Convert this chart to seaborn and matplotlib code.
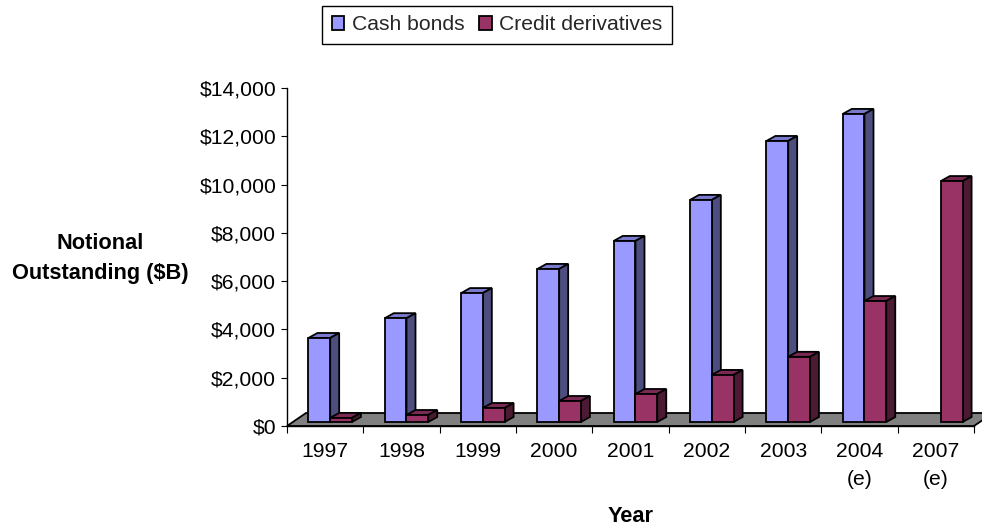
import numpy as np
import pandas as pd
import seaborn as sns
import matplotlib
matplotlib.use("Agg")
import matplotlib.pyplot as plt
from matplotlib.patches import Patch, Polygon
from matplotlib.transforms import Affine2D

years = ["1997", "1998", "1999", "2000", "2001", "2002", "2003", "2004\n(e)", "2007\n(e)"]
cash_bonds = [3480, 4300, 5340, 6340, 7500, 9200, 11640, 12760, np.nan]
credit_derivatives = [170, 290, 580, 870, 1160, 1950, 2700, 5010, 9980]
yticks = [0, 2000, 4000, 6000, 8000, 10000, 12000, 14000]

colors = {"Cash bonds": "#9999FF", "Credit derivatives": "#993366"}
tops = {"#9999FF": "#7A7ACC", "#993366": "#7A2952"}
sides = {"#9999FF": "#4D4D80", "#993366": "#4D1A33"}

df = pd.DataFrame({
    "year": years * 2,
    "series": ["Cash bonds"] * len(years) + ["Credit derivatives"] * len(years),
    "value": cash_bonds + credit_derivatives,
})

sns.set_theme(style="ticks")
plt.rcParams["font.family"] = ["Liberation Sans", "DejaVu Sans"]
fs = 15.2
bold_fs = 15.7
lw = 1.3

fig = plt.figure(figsize=(9.82, 5.27), dpi=100)
ax = fig.add_axes([287 / 982, (527 - 426) / 527, 687 / 982, 338 / 527])

sns.barplot(data=df, x="year", y="value", hue="series", palette=colors, width=0.57, gap=0,
            saturation=1, legend=False, edgecolor="black", linewidth=lw, ax=ax)
ax.set_xlim(-0.5, 8.5)
ax.set_ylim(0, 14000)

# pixel sizes to data units
cat_px = 687 / 9
val_px = 14000 / 338
dx = 9 / cat_px
dy = 5 * val_px

# fake 3d: bars sit a little behind the axis line
shift = Affine2D().translate(5, 4)
tr = ax.transData + shift

floor_dx = 19 / cat_px
floor_dy = 13 * val_px
ax.add_patch(Polygon([(-0.5, 0), (8.5, 0), (8.5 + floor_dx, floor_dy), (-0.5 + floor_dx, floor_dy)],
                     closed=True, facecolor="#808080", edgecolor="black", linewidth=lw,
                     clip_on=False, zorder=1))

bars = [p for p in ax.patches if isinstance(p, matplotlib.patches.Rectangle)]
bars = sorted(bars, key=lambda p: p.get_x())
for i, bar in enumerate(bars):
    h = bar.get_height()
    if np.isnan(h) or h == 0:
        bar.set_visible(False)
        continue
    x0 = bar.get_x()
    x1 = x0 + bar.get_width()
    face = matplotlib.colors.to_hex(bar.get_facecolor()).upper()
    z = 3 + i * 0.1
    bar.set_transform(tr)
    bar.set_clip_on(False)
    bar.set_zorder(z)
    ax.add_patch(Polygon([(x0, h), (x1, h), (x1 + dx, h + dy), (x0 + dx, h + dy)], closed=True,
                         facecolor=tops[face], edgecolor="black", linewidth=lw,
                         transform=tr, clip_on=False, zorder=z - 0.01))
    ax.add_patch(Polygon([(x1, 0), (x1 + dx, dy), (x1 + dx, h + dy), (x1, h)], closed=True,
                         facecolor=sides[face], edgecolor="black", linewidth=lw,
                         transform=tr, clip_on=False, zorder=z - 0.01))

sns.despine(ax=ax)
for s in ["left", "bottom"]:
    ax.spines[s].set_linewidth(1.0)
    ax.spines[s].set_color("black")
    ax.spines[s].set_zorder(2)

ax.set_yticks(yticks, labels=[f"${v:,}" for v in yticks])
ax.set_xticks(np.arange(len(years) + 1) - 0.5, labels=[])
ax.set_xticks(np.arange(len(years)), labels=years, minor=True)
ax.tick_params(axis="y", length=4.3, width=0.8, pad=3.5, labelsize=fs, color="black", labelcolor="black")
ax.tick_params(axis="x", which="major", length=5, width=0.8, color="black")
ax.tick_params(axis="x", which="minor", length=0, pad=11.5, labelsize=fs, labelcolor="black")
for t in ax.get_xticklabels(minor=True):
    t.set_linespacing(1.58)

ax.set_xlabel("Year", fontsize=bold_fs, fontweight="bold", color="black")
ax.xaxis.set_label_coords(0.5, -0.268)
ax.xaxis.label.set_va("center")
ax.set_ylabel("Notional\nOutstanding ($B)", fontsize=bold_fs, fontweight="bold", color="black",
              rotation=0, ha="center", va="center", linespacing=1.6)
ax.yaxis.set_label_coords(-0.272, 0.496)

handles = [Patch(facecolor=c, edgecolor="black", linewidth=lw, label=k) for k, c in colors.items()]
fig.legend(handles=handles, loc="center", bbox_to_anchor=(497 / 982, 1 - 25 / 527), ncol=2,
           fontsize=fs, frameon=True, fancybox=False, framealpha=1, edgecolor="black",
           handlelength=0.6, handleheight=0.6, handletextpad=0.35, columnspacing=0.7,
           borderpad=0.45, borderaxespad=0)

fig.savefig("out.png", dpi=100, facecolor="white")
